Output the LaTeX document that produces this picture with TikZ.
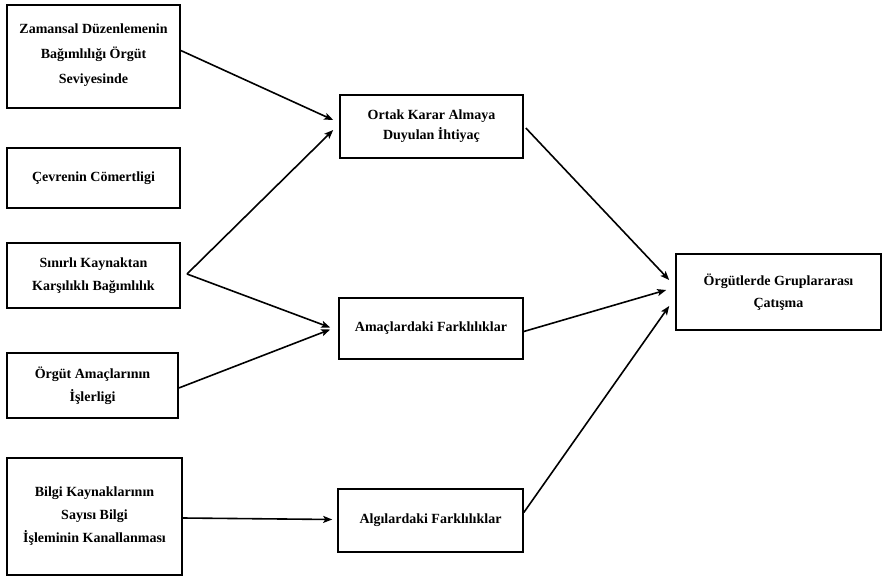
\documentclass[tikz,border=0pt]{standalone}
\usepackage{fontspec}
\setmainfont{Liberation Serif}
\usetikzlibrary{arrows.meta,calc}
\begin{document}
\begin{tikzpicture}[x=1pt,y=-1pt,
  box/.style={draw,line width=1.6pt,rectangle,inner sep=0pt,align=center,
    font=\fontsize{14}{23}\selectfont\bfseries},
  conn/.style={line width=1.6pt,-{Stealth[length=9pt,width=7pt,inset=2pt]}},
  plain/.style={line width=1.6pt}]
\useasboundingbox (0,0) rectangle (889,580);
\node[box,minimum width=173pt,minimum height=103pt,text depth=6pt] (z) at (93.5,56.5)
  {Zamansal Düzenlemenin\\[2pt]Bağımlılığı Örgüt\\[2pt]Seviyesinde};
\node[box,minimum width=173pt,minimum height=60pt] (c) at (93.5,178)
  {Çevrenin Cömertligi};
\node[box,minimum width=173pt,minimum height=65pt] (s) at (93.5,275.5)
  {Sınırlı Kaynaktan\\Karşılıklı Bağımlılık};
\node[box,minimum width=171pt,minimum height=65pt] (o) at (92.5,385.5)
  {Örgüt Amaçlarının\\İşlerligi};
\node[box,minimum width=175pt,minimum height=117pt] (b) at (94.5,516.5)
  {Bilgi Kaynaklarının\\Sayısı Bilgi\\İşleminin Kanallanması};
\node[box,minimum width=183pt,minimum height=63pt,text depth=4pt] (ortak) at (431.5,126.5)
  {Ortak Karar Almaya\\[-3pt]Duyulan İhtiyaç};
\node[box,minimum width=184pt,minimum height=61pt] (amac) at (431,328.5)
  {Amaçlardaki Farklılıklar};
\node[box,minimum width=185pt,minimum height=63pt] (algi) at (430.5,520.5)
  {Algılardaki Farklılıklar};
\node[box,minimum width=205pt,minimum height=76pt] (cat) at (778.5,292)
  {Örgütlerde Gruplararası\\[-1pt]Çatışma};
\coordinate (j) at (187,274);
\draw[conn] ($(z.east)+(0,-6)$) -- ($(ortak.west)+(-6,-6.5)$);
\draw[conn] (j) -- ($(ortak.west)+(-6,3.5)$);
\draw[conn] (j) -- ($(amac.west)+(-8,-1)$);
\draw[conn] ($(o.east)+(0,2.5)$) -- ($(amac.west)+(-8,1)$);
\draw[conn] ($(b.east)+(0,1.5)$) -- ($(algi.west)+(-5,-1)$);
\draw[conn] ($(ortak.east)+(2,1.5)$) -- ($(cat.west)+(-6,-12)$);
\draw[conn] ($(amac.east)+(0,3)$) -- ($(cat.west)+(-9,-2)$);
\draw[conn] ($(algi.east)+(0,-8)$) -- ($(cat.west)+(-6,14)$);
\end{tikzpicture}
\end{document}
